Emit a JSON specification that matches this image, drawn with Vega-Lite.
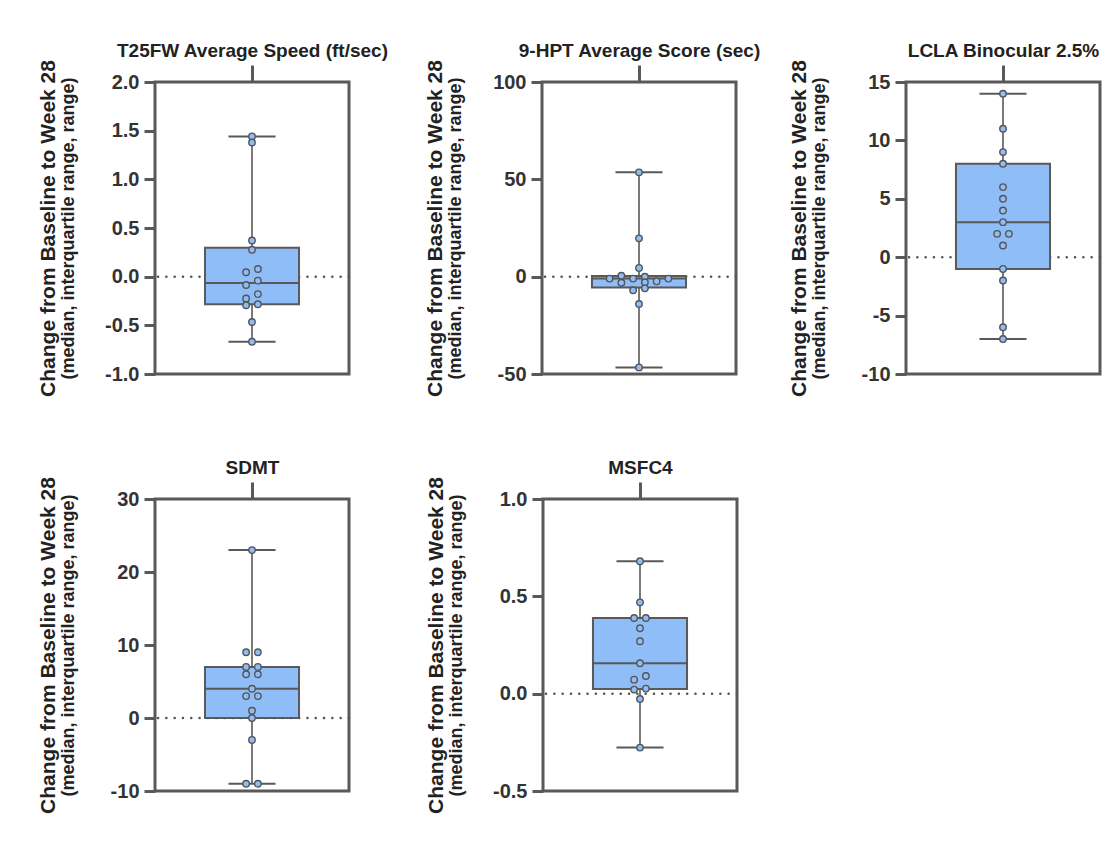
{
  "$schema": "https://vega.github.io/schema/vega-lite/v6.json",
  "padding": {"left": 35, "top": 40, "right": 5, "bottom": 5},
  "background": "white",
  "bounds": "flush",
  "spacing": 417,
  "config": {
    "view": {"stroke": "#595959", "strokeWidth": 3},
    "font": "Liberation Sans"
  },
  "datasets": {
    "points": [
      {"test": "T25FW", "value": 1.441, "slot": 0},
      {"test": "T25FW", "value": 1.379, "slot": 0},
      {"test": "T25FW", "value": 0.372, "slot": 0},
      {"test": "T25FW", "value": 0.276, "slot": 0},
      {"test": "T25FW", "value": 0.079, "slot": 1},
      {"test": "T25FW", "value": 0.045, "slot": -1},
      {"test": "T25FW", "value": -0.041, "slot": 1},
      {"test": "T25FW", "value": -0.086, "slot": -1},
      {"test": "T25FW", "value": -0.179, "slot": 1},
      {"test": "T25FW", "value": -0.224, "slot": -1},
      {"test": "T25FW", "value": -0.283, "slot": 1},
      {"test": "T25FW", "value": -0.293, "slot": -1},
      {"test": "T25FW", "value": -0.466, "slot": 0},
      {"test": "T25FW", "value": -0.669, "slot": 0},
      {"test": "9HPT", "value": 53.6, "slot": 0},
      {"test": "9HPT", "value": 19.7, "slot": 0},
      {"test": "9HPT", "value": 4.5, "slot": 0},
      {"test": "9HPT", "value": 0.5, "slot": -3},
      {"test": "9HPT", "value": 0.0, "slot": 1},
      {"test": "9HPT", "value": -1.0, "slot": -5},
      {"test": "9HPT", "value": -1.0, "slot": -1},
      {"test": "9HPT", "value": -1.0, "slot": 5},
      {"test": "9HPT", "value": -3.1, "slot": -3},
      {"test": "9HPT", "value": -2.9, "slot": 1},
      {"test": "9HPT", "value": -2.4, "slot": 3},
      {"test": "9HPT", "value": -6.0, "slot": 1},
      {"test": "9HPT", "value": -7.0, "slot": -1},
      {"test": "9HPT", "value": -14.0, "slot": 0},
      {"test": "9HPT", "value": -46.6, "slot": 0},
      {"test": "LCLA", "value": 14, "slot": 0},
      {"test": "LCLA", "value": 11, "slot": 0},
      {"test": "LCLA", "value": 9, "slot": 0},
      {"test": "LCLA", "value": 8, "slot": 0},
      {"test": "LCLA", "value": 6, "slot": 0},
      {"test": "LCLA", "value": 5, "slot": 0},
      {"test": "LCLA", "value": 4, "slot": 0},
      {"test": "LCLA", "value": 3, "slot": 0},
      {"test": "LCLA", "value": 2, "slot": -1},
      {"test": "LCLA", "value": 2, "slot": 1},
      {"test": "LCLA", "value": 1, "slot": 0},
      {"test": "LCLA", "value": -1, "slot": 0},
      {"test": "LCLA", "value": -2, "slot": 0},
      {"test": "LCLA", "value": -6, "slot": 0},
      {"test": "LCLA", "value": -7, "slot": 0},
      {"test": "SDMT", "value": 23, "slot": 0},
      {"test": "SDMT", "value": 9, "slot": -1},
      {"test": "SDMT", "value": 9, "slot": 1},
      {"test": "SDMT", "value": 7, "slot": -1},
      {"test": "SDMT", "value": 7, "slot": 1},
      {"test": "SDMT", "value": 6, "slot": -1},
      {"test": "SDMT", "value": 6, "slot": 1},
      {"test": "SDMT", "value": 4, "slot": 0},
      {"test": "SDMT", "value": 3, "slot": -1},
      {"test": "SDMT", "value": 3, "slot": 1},
      {"test": "SDMT", "value": 1, "slot": 0},
      {"test": "SDMT", "value": 0, "slot": 0},
      {"test": "SDMT", "value": -3, "slot": 0},
      {"test": "SDMT", "value": -9, "slot": -1},
      {"test": "SDMT", "value": -9, "slot": 1},
      {"test": "MSFC4", "value": 0.680, "slot": 0},
      {"test": "MSFC4", "value": 0.469, "slot": 0},
      {"test": "MSFC4", "value": 0.389, "slot": -1},
      {"test": "MSFC4", "value": 0.389, "slot": 1},
      {"test": "MSFC4", "value": 0.336, "slot": 0},
      {"test": "MSFC4", "value": 0.269, "slot": 0},
      {"test": "MSFC4", "value": 0.156, "slot": 0},
      {"test": "MSFC4", "value": 0.091, "slot": 1},
      {"test": "MSFC4", "value": 0.072, "slot": -1},
      {"test": "MSFC4", "value": 0.026, "slot": 1},
      {"test": "MSFC4", "value": 0.021, "slot": -1},
      {"test": "MSFC4", "value": -0.027, "slot": 0},
      {"test": "MSFC4", "value": -0.277, "slot": 0}
    ],
    "summary": [
      {"test": "T25FW", "min": -0.669, "q1": -0.283, "median": -0.064, "q3": 0.298, "max": 1.441},
      {"test": "9HPT", "min": -46.6, "q1": -5.6, "median": -1.0, "q3": 0.3, "max": 53.6},
      {"test": "LCLA", "min": -7, "q1": -1, "median": 3, "q3": 8, "max": 14},
      {"test": "SDMT", "min": -9, "q1": 0, "median": 4, "q3": 7, "max": 23},
      {"test": "MSFC4", "min": -0.277, "q1": 0.0235, "median": 0.156, "q3": 0.389, "max": 0.680}
    ]
  },
  "vconcat": [
    {
      "bounds": "flush",
      "spacing": 751,
      "hconcat": [
        {
          "bounds": "flush",
          "spacing": 193,
          "hconcat": [
            {
              "width": 194, "height": 292,
              "resolve": {"axis": {"y": "independent"}},
              "layer": [
                {"data": {"name": "summary"}, "transform": [{"filter": "datum.test === 'T25FW'"}],
                 "mark": {"type": "rule", "stroke": "#555", "strokeWidth": 2.5, "strokeCap": "round", "strokeDash": [0.1, 8.2]},
                 "encoding": {"y": {"datum": 0, "type": "quantitative", "scale": {"domain": [-1, 2], "nice": false, "zero": false},
                   "axis": {"orient": "left", "labels": false, "ticks": false, "domain": false, "grid": false, "title": "Change from Baseline to Week 28", "titleFontSize": 21, "titleFontWeight": "bold", "titleColor": "#222", "titlePadding": 97}}}},
                {"data": {"name": "summary"}, "transform": [{"filter": "datum.test === 'T25FW'"}],
                 "mark": {"type": "rule", "stroke": "#595959", "strokeWidth": 1.6},
                 "encoding": {"x": {"datum": 0, "type": "quantitative"}, "y": {"field": "min", "type": "quantitative", "axis": null}, "y2": {"field": "max"}}},
                {"data": {"name": "summary"}, "transform": [{"filter": "datum.test === 'T25FW'"}],
                 "mark": {"type": "rule", "stroke": "#595959", "strokeWidth": 2},
                 "encoding": {"x": {"datum": -4, "type": "quantitative"}, "x2": {"datum": 4}, "y": {"field": "min", "type": "quantitative", "axis": null}}},
                {"data": {"name": "summary"}, "transform": [{"filter": "datum.test === 'T25FW'"}],
                 "mark": {"type": "rule", "stroke": "#595959", "strokeWidth": 2},
                 "encoding": {"x": {"datum": -4, "type": "quantitative"}, "x2": {"datum": 4}, "y": {"field": "max", "type": "quantitative", "axis": null}}},
                {"data": {"name": "summary"}, "transform": [{"filter": "datum.test === 'T25FW'"}],
                 "mark": {"type": "rect", "fill": "#8fbdf7", "stroke": "#595959", "strokeWidth": 2},
                 "encoding": {"x": {"datum": -8, "type": "quantitative"}, "x2": {"datum": 8}, "y": {"field": "q1", "type": "quantitative",
                   "axis": {"orient": "left", "labels": false, "ticks": false, "domain": false, "grid": false, "title": "(median, interquartile range, range)", "titleFontSize": 18, "titleFontWeight": "bold", "titleColor": "#222", "titlePadding": 78}}, "y2": {"field": "q3"}}},
                {"data": {"name": "summary"}, "transform": [{"filter": "datum.test === 'T25FW'"}],
                 "mark": {"type": "rule", "stroke": "#595959", "strokeWidth": 2},
                 "encoding": {"x": {"datum": -8, "type": "quantitative"}, "x2": {"datum": 8}, "y": {"field": "median", "type": "quantitative", "axis": null}}},
                {"data": {"name": "points"}, "transform": [{"filter": "datum.test === 'T25FW'"}],
                 "mark": {"type": "circle", "size": 42, "fill": "#8fbdf7", "stroke": "#555", "strokeWidth": 1.4, "opacity": 1},
                 "encoding": {
                   "x": {"field": "slot", "type": "quantitative", "scale": {"domain": [-16.5, 16.5], "nice": false, "zero": false},
                     "axis": {"orient": "top", "values": [0], "labels": false, "domain": false, "grid": false, "tickSize": 17, "tickWidth": 3, "tickColor": "#595959", "title": "T25FW Average Speed (ft/sec)", "titleFontSize": 19, "titleFontWeight": "bold", "titleColor": "#222", "titlePadding": 3}},
                   "y": {"field": "value", "type": "quantitative", "scale": {"domain": [-1, 2], "nice": false, "zero": false},
                     "axis": {"orient": "left", "values": [-1, -0.5, 0, 0.5, 1, 1.5, 2], "format": ".1f", "labelExpr": "replace(datum.label, '\u2212', '-')", "labelFontSize": 20, "labelFontWeight": "bold", "labelColor": "#333", "labelPadding": 5, "tickSize": 11, "tickWidth": 3, "tickColor": "#595959", "domain": false, "grid": false, "title": null}}}}
              ]
            },
            {
              "width": 194, "height": 292,
              "resolve": {"axis": {"y": "independent"}},
              "layer": [
                {"data": {"name": "summary"}, "transform": [{"filter": "datum.test === '9HPT'"}],
                 "mark": {"type": "rule", "stroke": "#555", "strokeWidth": 2.5, "strokeCap": "round", "strokeDash": [0.1, 8.2]},
                 "encoding": {"y": {"datum": 0, "type": "quantitative", "scale": {"domain": [-50, 100], "nice": false, "zero": false},
                   "axis": {"orient": "left", "labels": false, "ticks": false, "domain": false, "grid": false, "title": "Change from Baseline to Week 28", "titleFontSize": 21, "titleFontWeight": "bold", "titleColor": "#222", "titlePadding": 97}}}},
                {"data": {"name": "summary"}, "transform": [{"filter": "datum.test === '9HPT'"}],
                 "mark": {"type": "rule", "stroke": "#595959", "strokeWidth": 1.6},
                 "encoding": {"x": {"datum": 0, "type": "quantitative"}, "y": {"field": "min", "type": "quantitative", "axis": null}, "y2": {"field": "max"}}},
                {"data": {"name": "summary"}, "transform": [{"filter": "datum.test === '9HPT'"}],
                 "mark": {"type": "rule", "stroke": "#595959", "strokeWidth": 2},
                 "encoding": {"x": {"datum": -4, "type": "quantitative"}, "x2": {"datum": 4}, "y": {"field": "min", "type": "quantitative", "axis": null}}},
                {"data": {"name": "summary"}, "transform": [{"filter": "datum.test === '9HPT'"}],
                 "mark": {"type": "rule", "stroke": "#595959", "strokeWidth": 2},
                 "encoding": {"x": {"datum": -4, "type": "quantitative"}, "x2": {"datum": 4}, "y": {"field": "max", "type": "quantitative", "axis": null}}},
                {"data": {"name": "summary"}, "transform": [{"filter": "datum.test === '9HPT'"}],
                 "mark": {"type": "rect", "fill": "#8fbdf7", "stroke": "#595959", "strokeWidth": 2},
                 "encoding": {"x": {"datum": -8, "type": "quantitative"}, "x2": {"datum": 8}, "y": {"field": "q1", "type": "quantitative",
                   "axis": {"orient": "left", "labels": false, "ticks": false, "domain": false, "grid": false, "title": "(median, interquartile range, range)", "titleFontSize": 18, "titleFontWeight": "bold", "titleColor": "#222", "titlePadding": 78}}, "y2": {"field": "q3"}}},
                {"data": {"name": "summary"}, "transform": [{"filter": "datum.test === '9HPT'"}],
                 "mark": {"type": "rule", "stroke": "#595959", "strokeWidth": 2},
                 "encoding": {"x": {"datum": -8, "type": "quantitative"}, "x2": {"datum": 8}, "y": {"field": "median", "type": "quantitative", "axis": null}}},
                {"data": {"name": "points"}, "transform": [{"filter": "datum.test === '9HPT'"}],
                 "mark": {"type": "circle", "size": 42, "fill": "#8fbdf7", "stroke": "#555", "strokeWidth": 1.4, "opacity": 1},
                 "encoding": {
                   "x": {"field": "slot", "type": "quantitative", "scale": {"domain": [-16.5, 16.5], "nice": false, "zero": false},
                     "axis": {"orient": "top", "values": [0], "labels": false, "domain": false, "grid": false, "tickSize": 17, "tickWidth": 3, "tickColor": "#595959", "title": "9-HPT Average Score (sec)", "titleFontSize": 19, "titleFontWeight": "bold", "titleColor": "#222", "titlePadding": 3}},
                   "y": {"field": "value", "type": "quantitative", "scale": {"domain": [-50, 100], "nice": false, "zero": false},
                     "axis": {"orient": "left", "values": [-50, 0, 50, 100], "format": "d", "labelExpr": "replace(datum.label, '\u2212', '-')", "labelFontSize": 20, "labelFontWeight": "bold", "labelColor": "#333", "labelPadding": 5, "tickSize": 11, "tickWidth": 3, "tickColor": "#595959", "domain": false, "grid": false, "title": null}}}}
              ]
            }
          ]
        },
        {
          "width": 194, "height": 292,
          "resolve": {"axis": {"y": "independent"}},
          "layer": [
            {"data": {"name": "summary"}, "transform": [{"filter": "datum.test === 'LCLA'"}],
             "mark": {"type": "rule", "stroke": "#555", "strokeWidth": 2.5, "strokeCap": "round", "strokeDash": [0.1, 8.2]},
             "encoding": {"y": {"datum": 0, "type": "quantitative", "scale": {"domain": [-10, 15], "nice": false, "zero": false},
               "axis": {"orient": "left", "labels": false, "ticks": false, "domain": false, "grid": false, "title": "Change from Baseline to Week 28", "titleFontSize": 21, "titleFontWeight": "bold", "titleColor": "#222", "titlePadding": 97}}}},
            {"data": {"name": "summary"}, "transform": [{"filter": "datum.test === 'LCLA'"}],
             "mark": {"type": "rule", "stroke": "#595959", "strokeWidth": 1.6},
             "encoding": {"x": {"datum": 0, "type": "quantitative"}, "y": {"field": "min", "type": "quantitative", "axis": null}, "y2": {"field": "max"}}},
            {"data": {"name": "summary"}, "transform": [{"filter": "datum.test === 'LCLA'"}],
             "mark": {"type": "rule", "stroke": "#595959", "strokeWidth": 2},
             "encoding": {"x": {"datum": -4, "type": "quantitative"}, "x2": {"datum": 4}, "y": {"field": "min", "type": "quantitative", "axis": null}}},
            {"data": {"name": "summary"}, "transform": [{"filter": "datum.test === 'LCLA'"}],
             "mark": {"type": "rule", "stroke": "#595959", "strokeWidth": 2},
             "encoding": {"x": {"datum": -4, "type": "quantitative"}, "x2": {"datum": 4}, "y": {"field": "max", "type": "quantitative", "axis": null}}},
            {"data": {"name": "summary"}, "transform": [{"filter": "datum.test === 'LCLA'"}],
             "mark": {"type": "rect", "fill": "#8fbdf7", "stroke": "#595959", "strokeWidth": 2},
             "encoding": {"x": {"datum": -8, "type": "quantitative"}, "x2": {"datum": 8}, "y": {"field": "q1", "type": "quantitative",
               "axis": {"orient": "left", "labels": false, "ticks": false, "domain": false, "grid": false, "title": "(median, interquartile range, range)", "titleFontSize": 18, "titleFontWeight": "bold", "titleColor": "#222", "titlePadding": 78}}, "y2": {"field": "q3"}}},
            {"data": {"name": "summary"}, "transform": [{"filter": "datum.test === 'LCLA'"}],
             "mark": {"type": "rule", "stroke": "#595959", "strokeWidth": 2},
             "encoding": {"x": {"datum": -8, "type": "quantitative"}, "x2": {"datum": 8}, "y": {"field": "median", "type": "quantitative", "axis": null}}},
            {"data": {"name": "points"}, "transform": [{"filter": "datum.test === 'LCLA'"}],
             "mark": {"type": "circle", "size": 42, "fill": "#8fbdf7", "stroke": "#555", "strokeWidth": 1.4, "opacity": 1},
             "encoding": {
               "x": {"field": "slot", "type": "quantitative", "scale": {"domain": [-16.5, 16.5], "nice": false, "zero": false},
                 "axis": {"orient": "top", "values": [0], "labels": false, "domain": false, "grid": false, "tickSize": 17, "tickWidth": 3, "tickColor": "#595959", "title": "LCLA Binocular 2.5%", "titleFontSize": 19, "titleFontWeight": "bold", "titleColor": "#222", "titlePadding": 3}},
               "y": {"field": "value", "type": "quantitative", "scale": {"domain": [-10, 15], "nice": false, "zero": false},
                 "axis": {"orient": "left", "values": [-10, -5, 0, 5, 10, 15], "format": "d", "labelExpr": "replace(datum.label, '\u2212', '-')", "labelFontSize": 20, "labelFontWeight": "bold", "labelColor": "#333", "labelPadding": 5, "tickSize": 11, "tickWidth": 3, "tickColor": "#595959", "domain": false, "grid": false, "title": null}}}}
          ]
        }
      ]
    },
    {
      "bounds": "flush",
      "spacing": 194,
      "hconcat": [
        {
          "width": 194, "height": 292,
          "resolve": {"axis": {"y": "independent"}},
          "layer": [
            {"data": {"name": "summary"}, "transform": [{"filter": "datum.test === 'SDMT'"}],
             "mark": {"type": "rule", "stroke": "#555", "strokeWidth": 2.5, "strokeCap": "round", "strokeDash": [0.1, 8.2]},
             "encoding": {"y": {"datum": 0, "type": "quantitative", "scale": {"domain": [-10, 30], "nice": false, "zero": false},
               "axis": {"orient": "left", "labels": false, "ticks": false, "domain": false, "grid": false, "title": "Change from Baseline to Week 28", "titleFontSize": 21, "titleFontWeight": "bold", "titleColor": "#222", "titlePadding": 97}}}},
            {"data": {"name": "summary"}, "transform": [{"filter": "datum.test === 'SDMT'"}],
             "mark": {"type": "rule", "stroke": "#595959", "strokeWidth": 1.6},
             "encoding": {"x": {"datum": 0, "type": "quantitative"}, "y": {"field": "min", "type": "quantitative", "axis": null}, "y2": {"field": "max"}}},
            {"data": {"name": "summary"}, "transform": [{"filter": "datum.test === 'SDMT'"}],
             "mark": {"type": "rule", "stroke": "#595959", "strokeWidth": 2},
             "encoding": {"x": {"datum": -4, "type": "quantitative"}, "x2": {"datum": 4}, "y": {"field": "min", "type": "quantitative", "axis": null}}},
            {"data": {"name": "summary"}, "transform": [{"filter": "datum.test === 'SDMT'"}],
             "mark": {"type": "rule", "stroke": "#595959", "strokeWidth": 2},
             "encoding": {"x": {"datum": -4, "type": "quantitative"}, "x2": {"datum": 4}, "y": {"field": "max", "type": "quantitative", "axis": null}}},
            {"data": {"name": "summary"}, "transform": [{"filter": "datum.test === 'SDMT'"}],
             "mark": {"type": "rect", "fill": "#8fbdf7", "stroke": "#595959", "strokeWidth": 2},
             "encoding": {"x": {"datum": -8, "type": "quantitative"}, "x2": {"datum": 8}, "y": {"field": "q1", "type": "quantitative",
               "axis": {"orient": "left", "labels": false, "ticks": false, "domain": false, "grid": false, "title": "(median, interquartile range, range)", "titleFontSize": 18, "titleFontWeight": "bold", "titleColor": "#222", "titlePadding": 78}}, "y2": {"field": "q3"}}},
            {"data": {"name": "summary"}, "transform": [{"filter": "datum.test === 'SDMT'"}],
             "mark": {"type": "rule", "stroke": "#595959", "strokeWidth": 2},
             "encoding": {"x": {"datum": -8, "type": "quantitative"}, "x2": {"datum": 8}, "y": {"field": "median", "type": "quantitative", "axis": null}}},
            {"data": {"name": "points"}, "transform": [{"filter": "datum.test === 'SDMT'"}],
             "mark": {"type": "circle", "size": 42, "fill": "#8fbdf7", "stroke": "#555", "strokeWidth": 1.4, "opacity": 1},
             "encoding": {
               "x": {"field": "slot", "type": "quantitative", "scale": {"domain": [-16.5, 16.5], "nice": false, "zero": false},
                 "axis": {"orient": "top", "values": [0], "labels": false, "domain": false, "grid": false, "tickSize": 17, "tickWidth": 3, "tickColor": "#595959", "title": "SDMT", "titleFontSize": 19, "titleFontWeight": "bold", "titleColor": "#222", "titlePadding": 3}},
               "y": {"field": "value", "type": "quantitative", "scale": {"domain": [-10, 30], "nice": false, "zero": false},
                 "axis": {"orient": "left", "values": [-10, 0, 10, 20, 30], "format": "d", "labelExpr": "replace(datum.label, '\u2212', '-')", "labelFontSize": 20, "labelFontWeight": "bold", "labelColor": "#333", "labelPadding": 5, "tickSize": 11, "tickWidth": 3, "tickColor": "#595959", "domain": false, "grid": false, "title": null}}}}
          ]
        },
        {
          "width": 194, "height": 292,
          "resolve": {"axis": {"y": "independent"}},
          "layer": [
            {"data": {"name": "summary"}, "transform": [{"filter": "datum.test === 'MSFC4'"}],
             "mark": {"type": "rule", "stroke": "#555", "strokeWidth": 2.5, "strokeCap": "round", "strokeDash": [0.1, 8.2]},
             "encoding": {"y": {"datum": 0, "type": "quantitative", "scale": {"domain": [-0.5, 1], "nice": false, "zero": false},
               "axis": {"orient": "left", "labels": false, "ticks": false, "domain": false, "grid": false, "title": "Change from Baseline to Week 28", "titleFontSize": 21, "titleFontWeight": "bold", "titleColor": "#222", "titlePadding": 97}}}},
            {"data": {"name": "summary"}, "transform": [{"filter": "datum.test === 'MSFC4'"}],
             "mark": {"type": "rule", "stroke": "#595959", "strokeWidth": 1.6},
             "encoding": {"x": {"datum": 0, "type": "quantitative"}, "y": {"field": "min", "type": "quantitative", "axis": null}, "y2": {"field": "max"}}},
            {"data": {"name": "summary"}, "transform": [{"filter": "datum.test === 'MSFC4'"}],
             "mark": {"type": "rule", "stroke": "#595959", "strokeWidth": 2},
             "encoding": {"x": {"datum": -4, "type": "quantitative"}, "x2": {"datum": 4}, "y": {"field": "min", "type": "quantitative", "axis": null}}},
            {"data": {"name": "summary"}, "transform": [{"filter": "datum.test === 'MSFC4'"}],
             "mark": {"type": "rule", "stroke": "#595959", "strokeWidth": 2},
             "encoding": {"x": {"datum": -4, "type": "quantitative"}, "x2": {"datum": 4}, "y": {"field": "max", "type": "quantitative", "axis": null}}},
            {"data": {"name": "summary"}, "transform": [{"filter": "datum.test === 'MSFC4'"}],
             "mark": {"type": "rect", "fill": "#8fbdf7", "stroke": "#595959", "strokeWidth": 2},
             "encoding": {"x": {"datum": -8, "type": "quantitative"}, "x2": {"datum": 8}, "y": {"field": "q1", "type": "quantitative",
               "axis": {"orient": "left", "labels": false, "ticks": false, "domain": false, "grid": false, "title": "(median, interquartile range, range)", "titleFontSize": 18, "titleFontWeight": "bold", "titleColor": "#222", "titlePadding": 78}}, "y2": {"field": "q3"}}},
            {"data": {"name": "summary"}, "transform": [{"filter": "datum.test === 'MSFC4'"}],
             "mark": {"type": "rule", "stroke": "#595959", "strokeWidth": 2},
             "encoding": {"x": {"datum": -8, "type": "quantitative"}, "x2": {"datum": 8}, "y": {"field": "median", "type": "quantitative", "axis": null}}},
            {"data": {"name": "points"}, "transform": [{"filter": "datum.test === 'MSFC4'"}],
             "mark": {"type": "circle", "size": 42, "fill": "#8fbdf7", "stroke": "#555", "strokeWidth": 1.4, "opacity": 1},
             "encoding": {
               "x": {"field": "slot", "type": "quantitative", "scale": {"domain": [-16.5, 16.5], "nice": false, "zero": false},
                 "axis": {"orient": "top", "values": [0], "labels": false, "domain": false, "grid": false, "tickSize": 17, "tickWidth": 3, "tickColor": "#595959", "title": "MSFC4", "titleFontSize": 19, "titleFontWeight": "bold", "titleColor": "#222", "titlePadding": 3}},
               "y": {"field": "value", "type": "quantitative", "scale": {"domain": [-0.5, 1], "nice": false, "zero": false},
                 "axis": {"orient": "left", "values": [-0.5, 0, 0.5, 1], "format": ".1f", "labelExpr": "replace(datum.label, '\u2212', '-')", "labelFontSize": 20, "labelFontWeight": "bold", "labelColor": "#333", "labelPadding": 5, "tickSize": 11, "tickWidth": 3, "tickColor": "#595959", "domain": false, "grid": false, "title": null}}}}
          ]
        }
      ]
    }
  ]
}
